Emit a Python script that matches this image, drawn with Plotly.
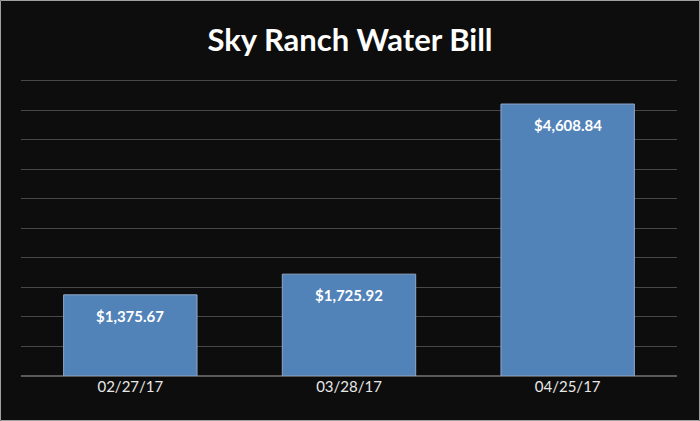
import plotly.graph_objects as go

dates = ["02/27/17", "03/28/17", "04/25/17"]
amounts = [1375.67, 1725.92, 4608.84]
labels = ["$1,375.67", "$1,725.92", "$4,608.84"]
title_text = "Sky Ranch Water Bill"

W, H = 700, 421
ymax = 5050
ml, mr, mb = 21, 23, 45
ph = round(295 * ymax / 5000)
mt = H - mb - ph
pw = W - ml - mr

fig = go.Figure(go.Bar(
    x=dates, y=amounts,
    marker=dict(color="#5182b8", line=dict(color="#8fa9c8", width=1)),
    width=0.61, hoverinfo="skip",
))

annotations = [
    dict(x=d, y=v, xref="x", yref="y", text="<b>" + t + "</b>", showarrow=False,
         yanchor="middle", yshift=-21,
         font=dict(family="Lato", size=15, color="white"))
    for d, v, t in zip(dates, amounts, labels)
]

fig.update_layout(
    width=W, height=H,
    margin=dict(l=ml, r=mr, t=mt, b=mb),
    paper_bgcolor="#0d0d0d", plot_bgcolor="#0d0d0d",
    title=dict(text="<b>" + title_text + "</b>", x=0.5, xanchor="center",
               y=1 - 40 / H, yanchor="middle",
               font=dict(family="Lato", size=31, color="white")),
    showlegend=False,
    annotations=annotations,
    xaxis=dict(showgrid=False, tickfont=dict(family="Lato", size=15, color="#e8e8e8"),
               ticks="", showline=False, zeroline=False, fixedrange=True),
    yaxis=dict(range=[0, ymax], tickvals=list(range(0, 5001, 500)), showticklabels=False,
               showgrid=True, gridcolor="#484848", gridwidth=1, zeroline=True,
               zerolinecolor="#5a5a5a", zerolinewidth=2, showline=False, fixedrange=True),
    shapes=[dict(type="rect", xref="paper", yref="paper",
                 x0=-(ml - 0.5) / pw, x1=1 + (mr - 0.5) / pw,
                 y0=-(mb - 0.5) / ph, y1=1 + (mt - 0.5) / ph,
                 line=dict(color="#a0a0a0", width=1), layer="above")],
)

fig.write_html("out.html", config={"displayModeBar": False, "staticPlot": True},
               post_script="document.body.style.margin='0';document.body.style.padding='0';")
